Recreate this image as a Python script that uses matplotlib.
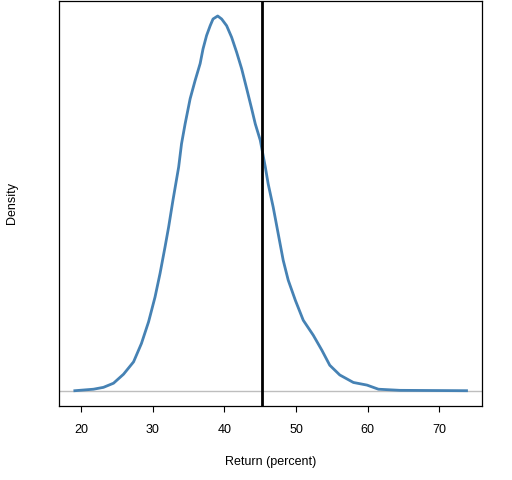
import matplotlib
matplotlib.use("Agg")
import matplotlib.pyplot as plt

# density curve of returns (x in percent, y relative to peak)
ret_x = [19.1, 21.7, 23.1, 24.5, 25.9, 27.3, 28.4, 29.4, 30.3, 31.0, 31.7, 32.2,
         32.8, 33.6, 34.0, 34.5, 35.2, 35.9, 36.6, 37.0, 37.5, 38.0, 38.4, 39.05,
         39.6, 40.3, 41.0, 41.7, 42.4, 43.1, 43.8, 44.3, 45.0, 45.7, 46.1, 46.8,
         47.5, 48.2, 48.9, 49.9, 51.0, 52.4, 53.6, 54.7, 56.1, 58.0, 59.9, 61.5,
         64.5, 73.8]
rel_dens = [0.0, 0.004, 0.009, 0.020, 0.044, 0.077, 0.126, 0.184, 0.250, 0.313, 0.384, 0.437,
            0.508, 0.597, 0.659, 0.712, 0.779, 0.828, 0.873, 0.912, 0.948, 0.974, 0.992, 1.0,
            0.992, 0.974, 0.943, 0.903, 0.859, 0.806, 0.752, 0.712, 0.668, 0.597, 0.552, 0.490,
            0.419, 0.348, 0.295, 0.241, 0.188, 0.148, 0.108, 0.068, 0.042, 0.022, 0.015, 0.004,
            0.001, 0.0]
peak = 0.063
density = [v * peak for v in rel_dens]
actual = 45.2
xticks = [20, 30, 40, 50, 60, 70]

plt.rcParams['font.family'] = ['Liberation Sans', 'DejaVu Sans']

fig = plt.figure(figsize=(5.12, 4.8), dpi=100)
ax = fig.add_axes([59.3 / 512, 1 - 405.7 / 480, 422.4 / 512, 404.7 / 480])

ax.axhline(0, color='#BEBEBE', lw=1)
ax.plot(ret_x, density, color='#4682B4', lw=2)
ax.axvline(actual, color='black', lw=2)

ax.set_xlim(16.93, 75.92)
ax.set_ylim(-0.04 * peak, 1.04 * peak)
ax.set_xticks(xticks)
ax.set_yticks([])
ax.tick_params(axis='x', length=4.5, width=0.8, labelsize=9, pad=9)
for s in ax.spines.values():
    s.set_linewidth(0.9)

ax.set_xlabel('Return (percent)', fontsize=9, labelpad=14)
ax.set_ylabel('Density', fontsize=9, labelpad=30)

fig.savefig('out.png', dpi=100)
